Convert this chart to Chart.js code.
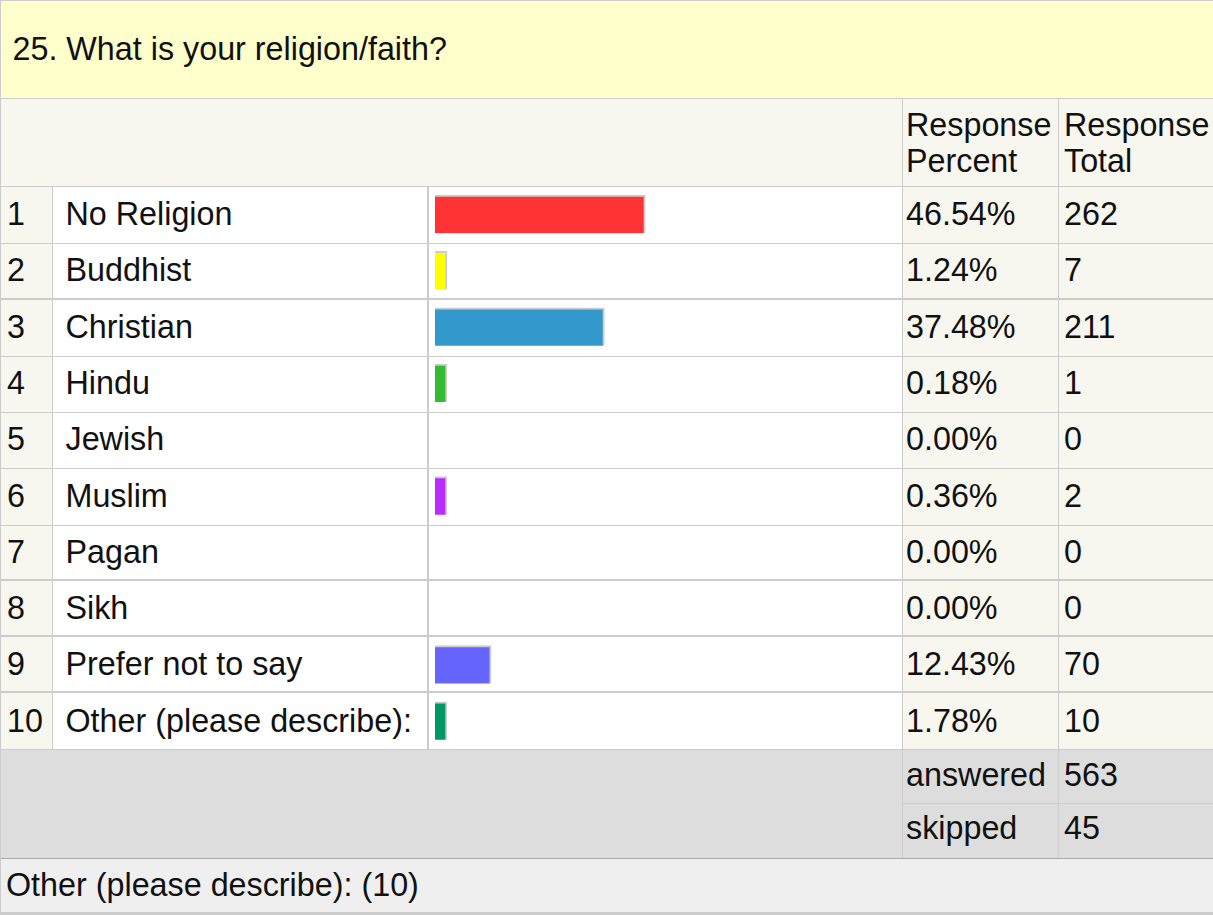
<!DOCTYPE html>
<html>
<head>
<meta charset="utf-8">
<script src="https://cdn.jsdelivr.net/npm/chart.js@4/dist/chart.umd.min.js"></script>
<style>
  html, body { margin: 0; padding: 0; background: #ffffff; }
  body { width: 1213px; height: 915px; position: relative; overflow: hidden;
         font-family: 'Liberation Sans', Arial, sans-serif; font-size: 32.3px; color: #111; }
  .box { position: absolute; }
  .t { position: absolute; white-space: nowrap; line-height: 37px; }
  #barWrap { position: absolute; left: 429px; top: 186px; width: 473px; height: 563px; }
</style>
</head>
<body>
<div id="page"></div>
<div id="barWrap"><canvas id="bars"></canvas></div>
<script>
// ---- data ----
const questionTitle = '25. What is your religion/faith?';
const categories = ['No Religion', 'Buddhist', 'Christian', 'Hindu', 'Jewish', 'Muslim', 'Pagan', 'Sikh', 'Prefer not to say', 'Other (please describe):'];
const percents = [46.54, 1.24, 37.48, 0.18, 0.00, 0.36, 0.00, 0.00, 12.43, 1.78];
const totals = [262, 7, 211, 1, 0, 2, 0, 0, 70, 10];
const answeredCount = 563;
const skippedCount = 45;
const otherCount = 10;
const headerPercent = ['Response', 'Percent'];
const headerTotal = ['Response', 'Total'];

// ---- styles ----
const barColors = ['#FF3333', '#FFFF00', '#3399CC', '#33BB33', '#999999', '#BB2BFF', '#999999', '#999999', '#6666FF', '#009966'];

const FS = 32.3, LH = 37;
const baseOff = (LH - 1.117 * FS) / 2 + 0.905 * FS;

const page = document.getElementById('page');
function box(x, y, w, h, bg) {
  const d = document.createElement('div');
  d.className = 'box';
  d.style.left = x + 'px'; d.style.top = y + 'px';
  d.style.width = w + 'px'; d.style.height = h + 'px';
  d.style.background = bg;
  page.appendChild(d);
  return d;
}
function text(str, x, baseline) {
  const d = document.createElement('div');
  d.className = 't';
  d.style.left = x + 'px';
  d.style.top = (baseline - baseOff) + 'px';
  d.textContent = str;
  page.appendChild(d);
  return d;
}

// backgrounds
box(0, 0, 1213, 98, '#FFFFCC');           // title band
box(0, 99, 1213, 87, '#F7F7F0');          // header row
box(0, 186, 52, 563, '#F7F7F0');          // number column
box(53, 186, 374, 563, '#FFFFFF');        // label column
box(429, 186, 473, 563, '#FFFFFF');       // bar column
box(903, 186, 310, 563, '#F7F7F0');       // percent/total columns
box(0, 749, 1213, 109, '#DDDDDD');        // summary rows
box(0, 859, 1213, 53, '#EFEFEF');         // other row

// lines
const rowLines = [186, 243, 299, 356, 412, 468, 525, 580, 636, 692, 749];
box(0, 0, 1213, 1, '#CCCCCC');
box(0, 98, 1213, 1, '#CCCCCC');
rowLines.forEach((y, k) => {
  const thick = (k === 2 || k === 7 || k === 8 || k === 9) ? 2 : 1;
  box(0, y - (thick - 1), 1213, thick, '#CCCCCC');
});
box(902, 803, 311, 1, '#CCCCCC');
box(0, 858, 1213, 1, '#AAAAAA');
box(0, 912, 1213, 3, '#CCCCCC');
box(0, 0, 1, 915, '#CCCCCC');
box(52, 186, 1, 563, '#CCCCCC');
box(427, 186, 2, 563, '#CCCCCC');
box(902, 99, 1, 759, '#CCCCCC');
box(1058, 99, 1, 759, '#CCCCCC');

// texts
text(questionTitle, 12.5, 61);
text(headerPercent[0], 906, 136.7);
text(headerPercent[1], 906, 172.7);
text(headerTotal[0], 1064, 136.7);
text(headerTotal[1], 1064, 172.7);
categories.forEach((c, i) => {
  const b = 225.7 + 56.3 * i;
  text(String(i + 1), 7, b);
  text(c, 65.5, b);
  text(percents[i].toFixed(2) + '%', 906, b);
  text(String(totals[i]), 1064, b);
});
text('answered', 906, 786.7);
text(String(answeredCount), 1064, 786.7);
text('skipped', 906, 840);
text(String(skippedCount), 1064, 840);
text('Other (please describe): (' + otherCount + ')', 6, 896.7);

// ---- bars via Chart.js ----
new Chart(document.getElementById('bars'), {
  type: 'bar',
  data: {
    labels: categories,
    datasets: [{
      data: percents.map(v => v > 0 ? v : null),
      backgroundColor: barColors,
      borderColor: '#CCCCCC',
      borderWidth: { top: 2, right: 2, bottom: 0, left: 0 },
      borderSkipped: false,
      barThickness: 38,
      minBarLength: 12
    }]
  },
  options: {
    indexAxis: 'y',
    responsive: true,
    maintainAspectRatio: false,
    animation: false,
    layout: { padding: { left: 6, right: 15, top: 0, bottom: 0 } },
    plugins: { legend: { display: false }, tooltip: { enabled: false } },
    scales: {
      x: { min: 0, max: 100, display: false },
      y: { display: false, offset: true }
    }
  }
});
</script>
</body>
</html>
